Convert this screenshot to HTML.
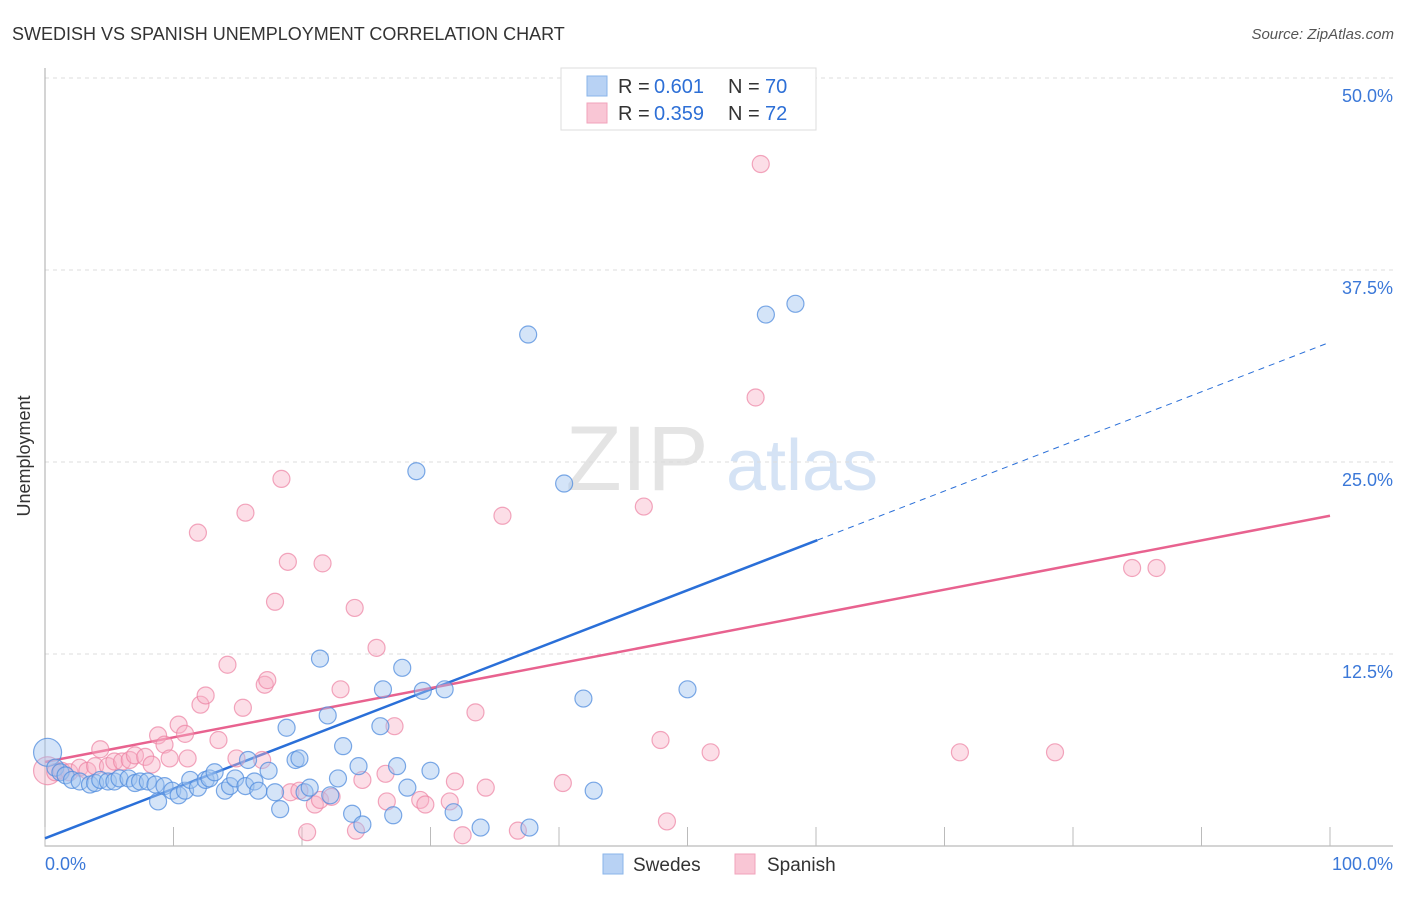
<!DOCTYPE html>
<html><head><meta charset="utf-8"><style>
body{margin:0;background:#fff;font-family:"Liberation Sans",sans-serif}
svg text{font-family:"Liberation Sans",sans-serif}
</style></head><body>
<svg id="chart" width="1406" height="892" xmlns="http://www.w3.org/2000/svg">
<text x="12" y="40" font-size="18" fill="#333">SWEDISH VS SPANISH UNEMPLOYMENT CORRELATION CHART</text>
<text x="1394" y="39" font-size="15" fill="#555" font-style="italic" text-anchor="end">Source: ZipAtlas.com</text>
<text x="30" y="456" font-size="18" fill="#333" text-anchor="middle" transform="rotate(-90 30 456)">Unemployment</text>
<g><text x="637" y="490" font-size="92" fill="#e4e4e4" font-family="Liberation Serif" text-anchor="middle">ZIP</text><text x="802" y="490" font-size="72" fill="#d5e3f5" text-anchor="middle">atlas</text></g>
<g id="grid"></g><g id="axes"></g><g id="lines"></g><g id="pts"></g>
<g>
<rect x="561" y="68" width="255" height="62" fill="#fff" stroke="#ddd"/>
<rect x="587" y="76" width="20" height="20" fill="#b8d2f4" stroke="#8ab4ea"/>
<text x="618" y="93" font-size="20" fill="#333">R = </text><text x="654" y="93" font-size="20" fill="#2d6fd6">0.601</text>
<text x="728" y="93" font-size="20" fill="#333">N = </text><text x="765" y="93" font-size="20" fill="#2d6fd6">70</text>
<rect x="587" y="103" width="20" height="20" fill="#f9c6d5" stroke="#f1a3bb"/>
<text x="618" y="120" font-size="20" fill="#333">R = </text><text x="654" y="120" font-size="20" fill="#2d6fd6">0.359</text>
<text x="728" y="120" font-size="20" fill="#333">N = </text><text x="765" y="120" font-size="20" fill="#2d6fd6">72</text>
</g>
<g>
<rect x="603" y="854" width="20" height="20" fill="#b8d2f4" stroke="#8ab4ea"/>
<text x="633" y="871" font-size="19" fill="#333">Swedes</text>
<rect x="735" y="854" width="20" height="20" fill="#f9c6d5" stroke="#f1a3bb"/>
<text x="767" y="871" font-size="19" fill="#333">Spanish</text>
</g>
</svg>
<script>
const yTicks=[12.5,25,37.5,50];
const yTickLabels=["12.5%","25.0%","37.5%","50.0%"];
const xTicks=[0,10,20,30,40,50,60,70,80,90,100];
const blueX=[0.2,0.8,1.2,1.6,2.1,2.7,3.5,3.9,4.3,4.9,5.4,5.8,6.5,7.0,7.4,8.0,8.6,8.8,9.3,9.9,10.4,10.9,11.3,11.9,12.5,12.8,13.2,14.0,14.4,14.8,15.6,16.3,16.6,15.8,17.4,17.9,18.3,18.8,19.5,19.8,20.2,20.6,21.4,22.0,22.2,22.8,23.2,23.9,24.4,24.7,26.1,26.3,27.1,27.4,27.8,28.2,28.9,29.4,30.0,31.1,31.8,33.9,37.6,37.7,40.4,41.9,42.7,50.0,56.1,58.4];
const blueY=[6.1,5.1,4.8,4.6,4.3,4.2,4.0,4.1,4.3,4.2,4.2,4.4,4.4,4.1,4.2,4.2,4.0,2.9,3.9,3.6,3.3,3.6,4.3,3.8,4.3,4.4,4.8,3.6,3.9,4.4,3.9,4.2,3.6,5.6,4.9,3.5,2.4,7.7,5.6,5.7,3.5,3.8,12.2,8.5,3.3,4.4,6.5,2.1,5.2,1.4,7.8,10.2,2.0,5.2,11.6,3.8,24.4,10.1,4.9,10.2,2.2,1.2,33.3,1.2,23.6,9.6,3.6,10.2,34.6,35.3];
const pinkX=[0.2,0.8,1.3,1.9,2.7,3.3,3.9,4.3,4.9,5.4,6.0,6.6,7.0,7.8,8.3,8.8,9.3,9.7,10.4,10.9,11.1,12.1,12.5,11.9,13.5,14.2,14.9,15.4,15.6,16.9,17.1,17.3,17.9,18.4,18.9,19.1,19.8,20.4,21.0,21.4,21.6,22.3,23.0,24.1,24.2,24.7,25.8,26.5,26.6,27.2,29.2,29.6,31.5,31.9,32.5,33.5,34.3,35.6,36.8,40.3,46.6,47.9,48.4,51.8,54.7,55.3,55.7,71.2,78.6,84.6,86.5];
const pinkY=[4.9,4.8,4.9,4.8,5.1,4.9,5.2,6.3,5.2,5.5,5.5,5.6,5.9,5.8,5.3,7.2,6.6,5.7,7.9,7.3,5.7,9.2,9.8,20.4,6.9,11.8,5.7,9.0,21.7,5.6,10.5,10.8,15.9,23.9,18.5,3.5,3.6,0.9,2.7,3.0,18.4,3.2,10.2,15.5,1.0,4.3,12.9,4.7,2.9,7.8,3.0,2.7,2.9,4.2,0.7,8.7,3.8,21.5,1.0,4.1,22.1,6.9,1.6,6.1,49.8,29.2,44.4,6.1,6.1,18.1,18.1];
const blueTrend=[0.5,32.8];
const pinkTrend=[5.47,21.5];
const NS="http://www.w3.org/2000/svg";
const sx=v=>45+v*12.85, sy=v=>846-v*15.36;
function mk(tag,attrs,parent){const e=document.createElementNS(NS,tag);for(const k in attrs)e.setAttribute(k,attrs[k]);document.getElementById(parent).appendChild(e);return e;}
yTicks.forEach((t,i)=>{
 const g=mk('line',{x1:45,x2:1393,y1:sy(t),y2:sy(t),stroke:'#ddd','stroke-dasharray':'4 4'},'grid');
 
 
 const l=mk('text',{x:1393,y:sy(t)+24,'font-size':18,fill:'#3b78d8','text-anchor':'end'},'axes');
 l.textContent=yTickLabels[i];
 
 
});
const ax=mk('path',{d:'M45 68 V846 H1393',stroke:'#aaa',fill:'none'},'axes');


xTicks.forEach(t=>{
 const tk=mk('line',{x1:sx(t),x2:sx(t),y1:846,y2:827,stroke:'#bbb'},'axes');
 
 
});
[[0,'0.0%','start',45],[100,'100.0%','end',1393]].forEach(a=>{
 const l=mk('text',{x:a[3],y:870,'font-size':18,fill:'#3b78d8','text-anchor':a[2]},'axes');
 l.textContent=a[1];
 
 
});
function dots(xs,ys,fill,stroke,name){
 xs.forEach((x,i)=>{
  const c=mk('circle',{cx:sx(x),cy:sy(ys[i]),r:i===0?14:8.5,fill:fill,stroke:stroke,'stroke-width':1.2},'pts');
  
  
 });
}
dots(pinkX,pinkY,'rgba(248,176,198,0.42)','rgba(236,130,162,0.7)','spanish-point');
dots(blueX,blueY,'rgba(160,196,240,0.45)','rgba(80,140,222,0.75)','swedes-point');
const bAt=x=>blueTrend[0]+(blueTrend[1]-blueTrend[0])*x/100;
const pAt=x=>pinkTrend[0]+(pinkTrend[1]-pinkTrend[0])*x/100;
let e=mk('line',{x1:sx(0),y1:sy(bAt(0)),x2:sx(60.1),y2:sy(bAt(60.1)),stroke:'#2a6fd8','stroke-width':2.5},'lines');


e=mk('line',{x1:sx(60.1),y1:sy(bAt(60.1)),x2:sx(100),y2:sy(bAt(100)),stroke:'#2a6fd8','stroke-width':1,'stroke-dasharray':'6 5'},'lines');


e=mk('line',{x1:sx(0),y1:sy(pAt(0)),x2:sx(100),y2:sy(pAt(100)),stroke:'#e8628f','stroke-width':2.5},'lines');


</script>
</body></html>
